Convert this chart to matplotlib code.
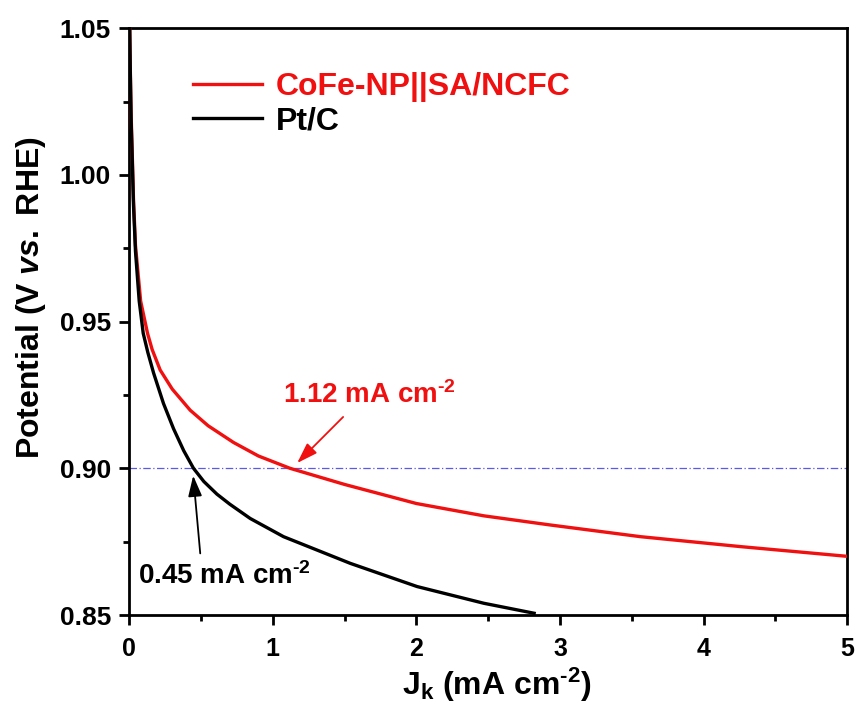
import matplotlib
matplotlib.use("Agg")
import matplotlib.pyplot as plt

plt.rcParams['font.family'] = ['Liberation Sans', 'DejaVu Sans']
plt.rcParams['font.weight'] = 'bold'
plt.rcParams['mathtext.fontset'] = 'custom'
plt.rcParams['mathtext.rm'] = 'Liberation Sans:bold'
plt.rcParams['mathtext.it'] = 'Liberation Sans:bold:italic'
plt.rcParams['mathtext.bf'] = 'Liberation Sans:bold'
plt.rcParams['mathtext.default'] = 'rm'

# data
cofe_j = [0.004, 0.008, 0.014, 0.02, 0.03, 0.044, 0.08, 0.128, 0.16, 0.216, 0.30, 0.425, 0.55,
          0.727, 0.90, 1.12, 1.5, 2.0, 2.47, 2.93, 3.56, 4.26, 5.0]
cofe_v = [1.05, 1.036, 1.02, 1.01, 0.992, 0.976, 0.957, 0.946, 0.9405, 0.9335, 0.927, 0.9198, 0.9145,
          0.9088, 0.9042, 0.900, 0.8945, 0.888, 0.8838, 0.8807, 0.8767, 0.8733, 0.870]

ptc_j = [0.004, 0.008, 0.014, 0.02, 0.03, 0.044, 0.07, 0.098, 0.13, 0.17, 0.239, 0.309, 0.38, 0.448,
         0.52, 0.611, 0.70, 0.843, 1.075, 1.54, 2.005, 2.47, 2.82]
ptc_v = [1.05, 1.035, 1.018, 1.008, 0.99, 0.974, 0.957, 0.946, 0.9395, 0.9325, 0.9221, 0.9135, 0.906, 0.900,
         0.8955, 0.8912, 0.8878, 0.8829, 0.8767, 0.8676, 0.8597, 0.854, 0.8506]

ref_v = 0.90
cofe_label = '1.12 mA cm$^{\u2010 2}$'
ptc_label = '0.45 mA cm$^{\u2010 2}$'

red = '#f01010'

fig = plt.figure(figsize=(8.61, 7.04), dpi=100)
ax = fig.add_axes([0.150, 0.1264, 0.834, 0.8336])

ax.plot([0, 5], [ref_v, ref_v], color='#5a5ae6', lw=0.9, dashes=(6, 2, 1, 2), zorder=1)
ax.plot(cofe_j, cofe_v, color=red, lw=2.4, label='CoFe-NP||SA/NCFC', zorder=3)
ax.plot(ptc_j, ptc_v, color='black', lw=2.4, label='Pt/C', zorder=3)

ax.set_xlim(0, 5)
ax.set_ylim(0.85, 1.05)
ax.set_xticks([0, 1, 2, 3, 4, 5])
ax.set_yticks([0.85, 0.90, 0.95, 1.00, 1.05])
ax.set_xticks([0.5, 1.5, 2.5, 3.5, 4.5], minor=True)
ax.set_yticks([0.875, 0.925, 0.975, 1.025], minor=True)
ax.tick_params(which='major', direction='out', length=7, width=2, labelsize=18)
ax.tick_params(which='minor', direction='out', length=4, width=2)
ax.tick_params(axis='x', which='major', pad=9)
ax.tick_params(axis='y', which='major', pad=6, labelsize=19)
for s in ax.spines.values():
    s.set_linewidth(2)

ax.set_xlabel('J$_\\mathrm{k}$ (mA cm$^{\u2010 2}$)', fontsize=23, fontweight='bold')
ax.set_ylabel('Potential (V $\\it{vs.}$ RHE)', fontsize=23, fontweight='bold')
ax.xaxis.set_label_coords(0.5125, -0.086)
ax.yaxis.set_label_coords(-0.113, 0.54)

leg = ax.legend(loc='upper left', bbox_to_anchor=(0.089, 0.925), frameon=False,
                fontsize=23, handlelength=2.15, handletextpad=0.45, labelspacing=0.12,
                borderpad=0, borderaxespad=0)
leg.get_texts()[0].set_color(red)

ax.text(1.07, 0.9222, cofe_label, color=red, fontsize=20, ha='left', va='baseline')
ax.annotate('', xy=(1.17, 0.9018), xytext=(1.49, 0.9175),
            arrowprops=dict(arrowstyle='-|>,head_length=0.9,head_width=0.3', color=red, lw=1.3,
                            mutation_scale=14, shrinkA=0, shrinkB=0))
ax.text(0.063, 0.8606, ptc_label, color='black', fontsize=20, ha='left', va='baseline')
ax.annotate('', xy=(0.446, 0.8975), xytext=(0.495, 0.871),
            arrowprops=dict(arrowstyle='-|>,head_length=0.9,head_width=0.3', color='black', lw=1.3,
                            mutation_scale=14, shrinkA=0, shrinkB=0))

fig.savefig('out.png', dpi=100)
